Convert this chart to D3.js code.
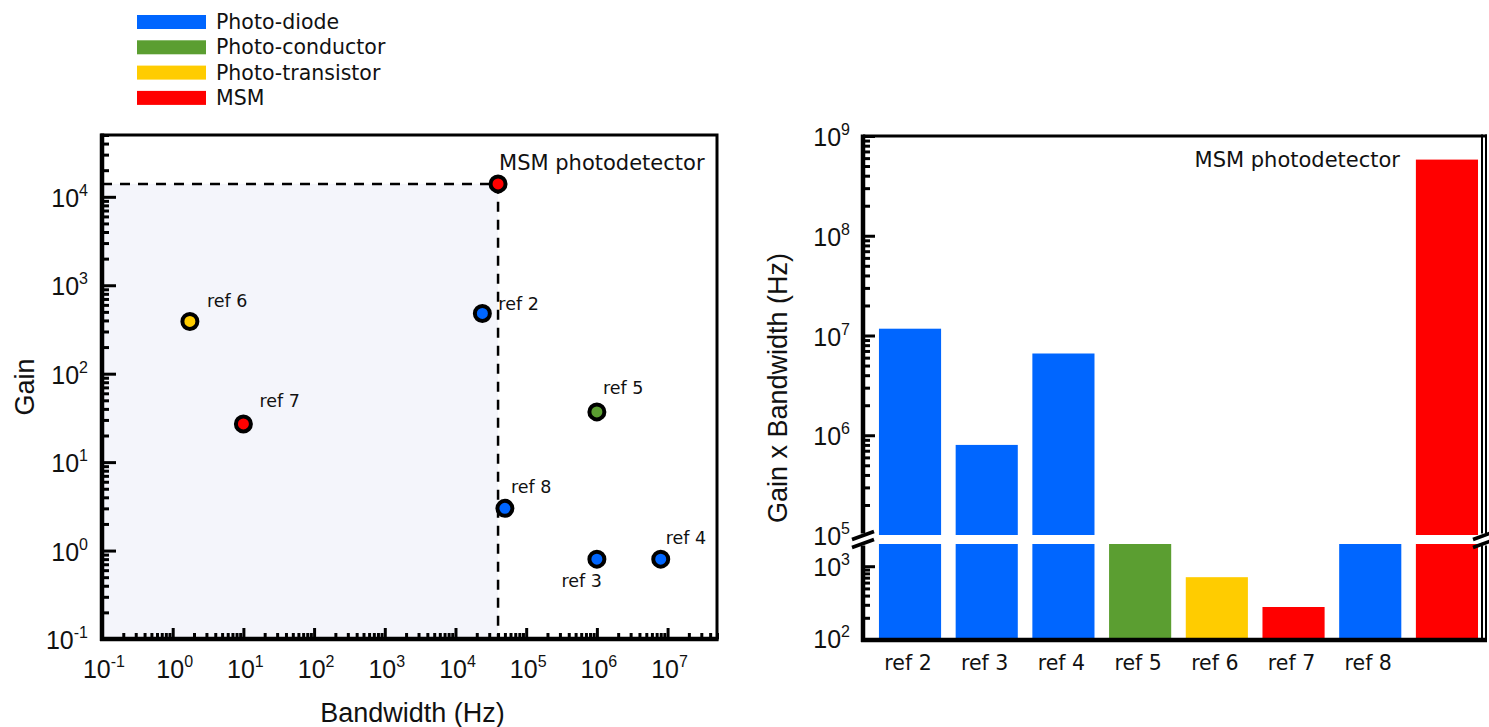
<!DOCTYPE html>
<meta charset="utf-8">
<style>
body { margin: 0; background: #fff; }
svg { font-family: "Liberation Sans", Arial, sans-serif; }
.dv { font-family: "DejaVu Sans", sans-serif; }
</style>
<body>
<script src="https://d3js.org/d3.v7.min.js"></script>
<script>
// legend / device types
const typeNames = ["Photo-diode", "Photo-conductor", "Photo-transistor", "MSM"];
const typeColors = ["#0066ff", "#5b9e31", "#ffcc00", "#ff0000"];

// left: gain vs bandwidth
const pointNames = ["MSM photodetector", "ref 2", "ref 3", "ref 4", "ref 5", "ref 6", "ref 7", "ref 8"];
const pointTypes = ["MSM", "Photo-diode", "Photo-diode", "Photo-diode", "Photo-conductor", "Photo-transistor", "MSM", "Photo-diode"];
const bandwidthHz = [4e4, 2.4e4, 1e6, 8e6, 1e6, 1.75, 10, 5e4];
const gain = [1.4e4, 480, 0.8, 0.8, 37, 390, 27, 3];

// right: gain x bandwidth
const barNames = ["ref 2", "ref 3", "ref 4", "ref 5", "ref 6", "ref 7", "ref 8", ""];
const barTypes = ["Photo-diode", "Photo-diode", "Photo-diode", "Photo-conductor", "Photo-transistor", "MSM", "Photo-diode", "MSM"];
const gainBandwidth = [1.17e7, 8e5, 6.6e6, 3.7e4, 710, 280, 1.5e4, 5.8e8];

// tick exponents
const xExpLeft = [-1, 0, 1, 2, 3, 4, 5, 6, 7];
const yExpLeft = [-1, 0, 1, 2, 3, 4];
const yExpUpper = [5, 6, 7, 8, 9];
const yExpLower = [2, 3];

const color = d3.scaleOrdinal().domain(typeNames).range(typeColors);

const svg = d3.select("body").append("svg")
    .attr("width", 1489).attr("height", 727);

// label offsets for point annotations (dx, dy, anchor, size)
const labelPos = {
    "MSM photodetector": [1, -20, "start", 21],
    "ref 2": [16, -9, "start", 17.5],
    "ref 3": [5, 22, "end", 17.5],
    "ref 4": [5, -21, "start", 17.5],
    "ref 5": [6, -24, "start", 17.5],
    "ref 6": [17, -20, "start", 17.5],
    "ref 7": [16, -23, "start", 17.5],
    "ref 8": [6, -21, "start", 17.5]
};

function powLabel(g, e, x, y, anchor) {
    let t = g.append("text").attr("x", x).attr("y", y)
        .attr("text-anchor", anchor).attr("font-size", 25).attr("fill", "#111");
    t.append("tspan").text("10");
    t.append("tspan").attr("font-size", 16).attr("dy", -11).text(String(e));
}

// ---------- Legend ----------
const leg = svg.append("g");
typeNames.forEach((n, i) => {
    leg.append("rect").attr("x", 137).attr("y", 15 + i * 25.3).attr("width", 69).attr("height", 14)
        .attr("fill", color(n));
    leg.append("text").attr("class", "dv").attr("x", 216).attr("y", 29 + i * 25.3)
        .attr("font-size", 20.5).attr("fill", "#111").text(n);
});

// ---------- Left chart ----------
const L = {x0: 102, x1: 717, y0: 135, y1: 639};
const x = d3.scaleLog().domain([0.1, 5e7]).range([L.x0, L.x1]);
const y = d3.scaleLog().domain([0.1, 5e4]).range([L.y1, L.y0]);
const gl = svg.append("g");

// shaded region + dashed lines to MSM point
const msm = 0;
gl.append("rect").attr("x", L.x0).attr("y", y(gain[msm]))
    .attr("width", x(bandwidthHz[msm]) - L.x0).attr("height", L.y1 - y(gain[msm]))
    .attr("fill", "#f4f5fb");
gl.append("path")
    .attr("d", d3.line()([[L.x0, y(gain[msm])], [x(bandwidthHz[msm]), y(gain[msm])], [x(bandwidthHz[msm]), L.y1]]))
    .attr("fill", "none").attr("stroke", "#000").attr("stroke-width", 2.5).attr("stroke-dasharray", "10,8");

// ticks
const isMinor = v => Math.abs(Math.log10(v) - Math.round(Math.log10(v))) > 1e-6;
const minorX = x.ticks().filter(isMinor);
const minorY = y.ticks().filter(isMinor);
gl.append("g").attr("transform", `translate(0,${L.y1})`)
    .call(d3.axisBottom(x).tickValues(minorX).tickSize(-6).tickFormat(""));
gl.append("g").attr("transform", `translate(0,${L.y1})`)
    .call(d3.axisBottom(x).tickValues(xExpLeft.map(e => 10 ** e)).tickSize(-11).tickFormat(""));
gl.append("g").attr("transform", `translate(${L.x0},0)`)
    .call(d3.axisLeft(y).tickValues(minorY).tickSize(-7).tickFormat(""));
gl.append("g").attr("transform", `translate(${L.x0},0)`)
    .call(d3.axisLeft(y).tickValues(yExpLeft.map(e => 10 ** e)).tickSize(-14).tickFormat(""));
gl.selectAll(".domain").remove();
gl.selectAll(".tick line").attr("stroke", "#000").attr("stroke-width", 3);

// frame
gl.append("rect").attr("x", L.x0).attr("y", L.y0).attr("width", L.x1 - L.x0).attr("height", L.y1 - L.y0)
    .attr("fill", "none").attr("stroke", "#000").attr("stroke-width", 3);
gl.append("line").attr("x1", L.x0 - 2).attr("x2", L.x1 + 1.5).attr("y1", L.y1).attr("y2", L.y1)
    .attr("stroke", "#000").attr("stroke-width", 4.5);
gl.append("line").attr("x1", L.x0).attr("x2", L.x0).attr("y1", L.y0 - 1.5).attr("y2", L.y1 + 2)
    .attr("stroke", "#000").attr("stroke-width", 4.5);

xExpLeft.forEach(e => powLabel(gl, e, x(10 ** e) + 2, 678, "middle"));
yExpLeft.forEach(e => powLabel(gl, e, L.x0 - 14, y(10 ** e) + 10, "end"));

// points
pointNames.forEach((n, i) => {
    const cx = x(bandwidthHz[i]), cy = y(gain[i]);
    gl.append("circle").attr("cx", cx).attr("cy", cy).attr("r", 7.5)
        .attr("fill", color(pointTypes[i])).attr("stroke", "#000").attr("stroke-width", 4);
    const p = labelPos[n];
    gl.append("text").attr("class", "dv").attr("x", cx + p[0]).attr("y", cy + p[1] + 6)
        .attr("text-anchor", p[2]).attr("font-size", p[3]).attr("fill", "#111").text(n);
});

gl.append("text").attr("x", 25).attr("y", (L.y0 + L.y1) / 2).attr("transform", `rotate(-90,25,${(L.y0 + L.y1) / 2})`)
    .attr("text-anchor", "middle").attr("dy", 9).attr("font-size", 27).attr("fill", "#111").text("Gain");
gl.append("text").attr("x", (L.x0 + L.x1) / 2 + 3).attr("y", 722)
    .attr("text-anchor", "middle").attr("font-size", 27).attr("fill", "#111").text("Bandwidth (Hz)");

// ---------- Right chart ----------
const R = {x0: 863, x1: 1482, yTop: 136, yBreakU: 535, yBreakL: 544, yBot: 640};
const xb = d3.scaleBand().domain(d3.range(barNames.length)).range([R.x0, R.x1])
    .paddingInner(0.19).paddingOuter(0.13).align(0.8);
const yU = d3.scaleLog().domain([1e5, 1e9]).range([R.yBreakU, R.yTop]);
const yL = d3.scaleLog().domain([1e2, 2e3]).range([R.yBot, R.yBreakL]);
const gr = svg.append("g");

gainBandwidth.forEach((v, i) => {
    const c = color(barTypes[i]);
    const top = yL(Math.min(v, 2e3));
    gr.append("rect").attr("x", xb(i)).attr("width", xb.bandwidth())
        .attr("y", top).attr("height", R.yBot - top).attr("fill", c);
    if (v > 1e5) {
        gr.append("rect").attr("x", xb(i)).attr("width", xb.bandwidth())
            .attr("y", yU(v)).attr("height", R.yBreakU - yU(v)).attr("fill", c);
    }
    gr.append("text").attr("class", "dv").attr("x", xb(i) + xb.bandwidth() / 2 - 2).attr("y", 670)
        .attr("text-anchor", "middle").attr("font-size", 20.5).attr("fill", "#111").text(barNames[i]);
});

const minorU = yU.ticks().filter(isMinor);
const minorL = yL.ticks().filter(v => v < 2e3 && isMinor(v));
gr.append("g").attr("transform", `translate(${R.x0},0)`)
    .call(d3.axisLeft(yU).tickValues(minorU).tickSize(-7).tickFormat(""));
gr.append("g").attr("transform", `translate(${R.x0},0)`)
    .call(d3.axisLeft(yU).tickValues(yExpUpper.map(e => 10 ** e).filter(v => v > 1e5)).tickSize(-12).tickFormat(""));
gr.append("g").attr("transform", `translate(${R.x0},0)`)
    .call(d3.axisLeft(yL).tickValues(minorL).tickSize(-7).tickFormat(""));
gr.append("g").attr("transform", `translate(${R.x0},0)`)
    .call(d3.axisLeft(yL).tickValues([1e3]).tickSize(-12).tickFormat(""));
gr.selectAll(".domain").remove();
gr.selectAll(".tick line").attr("stroke", "#000").attr("stroke-width", 3);

// frame with broken vertical axes
const bk = (R.yBreakU + R.yBreakL) / 2;
[[R.yTop - 1.5, bk - 6], [bk + 6, R.yBot + 2]].forEach(s => {
    gr.append("line").attr("x1", R.x0).attr("x2", R.x0).attr("y1", s[0]).attr("y2", s[1])
        .attr("stroke", "#000").attr("stroke-width", 4.5);
    gr.append("line").attr("x1", R.x1).attr("x2", R.x1).attr("y1", s[0]).attr("y2", s[1])
        .attr("stroke", "#000").attr("stroke-width", 2);
    gr.append("line").attr("x1", R.x1 + 4).attr("x2", R.x1 + 4).attr("y1", s[0]).attr("y2", s[1])
        .attr("stroke", "#000").attr("stroke-width", 2);
});
gr.append("line").attr("x1", R.x0).attr("x2", R.x1 + 5).attr("y1", R.yTop).attr("y2", R.yTop)
    .attr("stroke", "#000").attr("stroke-width", 3);
gr.append("line").attr("x1", R.x0 - 2).attr("x2", R.x1 + 5).attr("y1", R.yBot).attr("y2", R.yBot)
    .attr("stroke", "#000").attr("stroke-width", 4.5);
[R.x0, R.x1 + 2].forEach(ax => {
    [-4, 4].forEach(o => {
        gr.append("line").attr("x1", ax - 11).attr("x2", ax + 11)
            .attr("y1", bk + o + 4).attr("y2", bk + o - 4)
            .attr("stroke", "#000").attr("stroke-width", 3.5);
    });
});

yExpUpper.forEach(e => powLabel(gr, e, R.x0 - 13, yU(10 ** e) + 10, "end"));
yExpLower.forEach(e => powLabel(gr, e, R.x0 - 13, yL(10 ** e) + (e === 2 ? 8 : 10), "end"));

gr.append("text").attr("class", "dv").attr("x", 1400).attr("y", 167)
    .attr("text-anchor", "end").attr("font-size", 21).attr("fill", "#111").text("MSM photodetector");
gr.append("text").attr("x", 778).attr("y", 388).attr("transform", "rotate(-90,778,388)")
    .attr("text-anchor", "middle").attr("dy", 9).attr("font-size", 27).attr("fill", "#111")
    .text("Gain x Bandwidth (Hz)");
</script>
</body>
